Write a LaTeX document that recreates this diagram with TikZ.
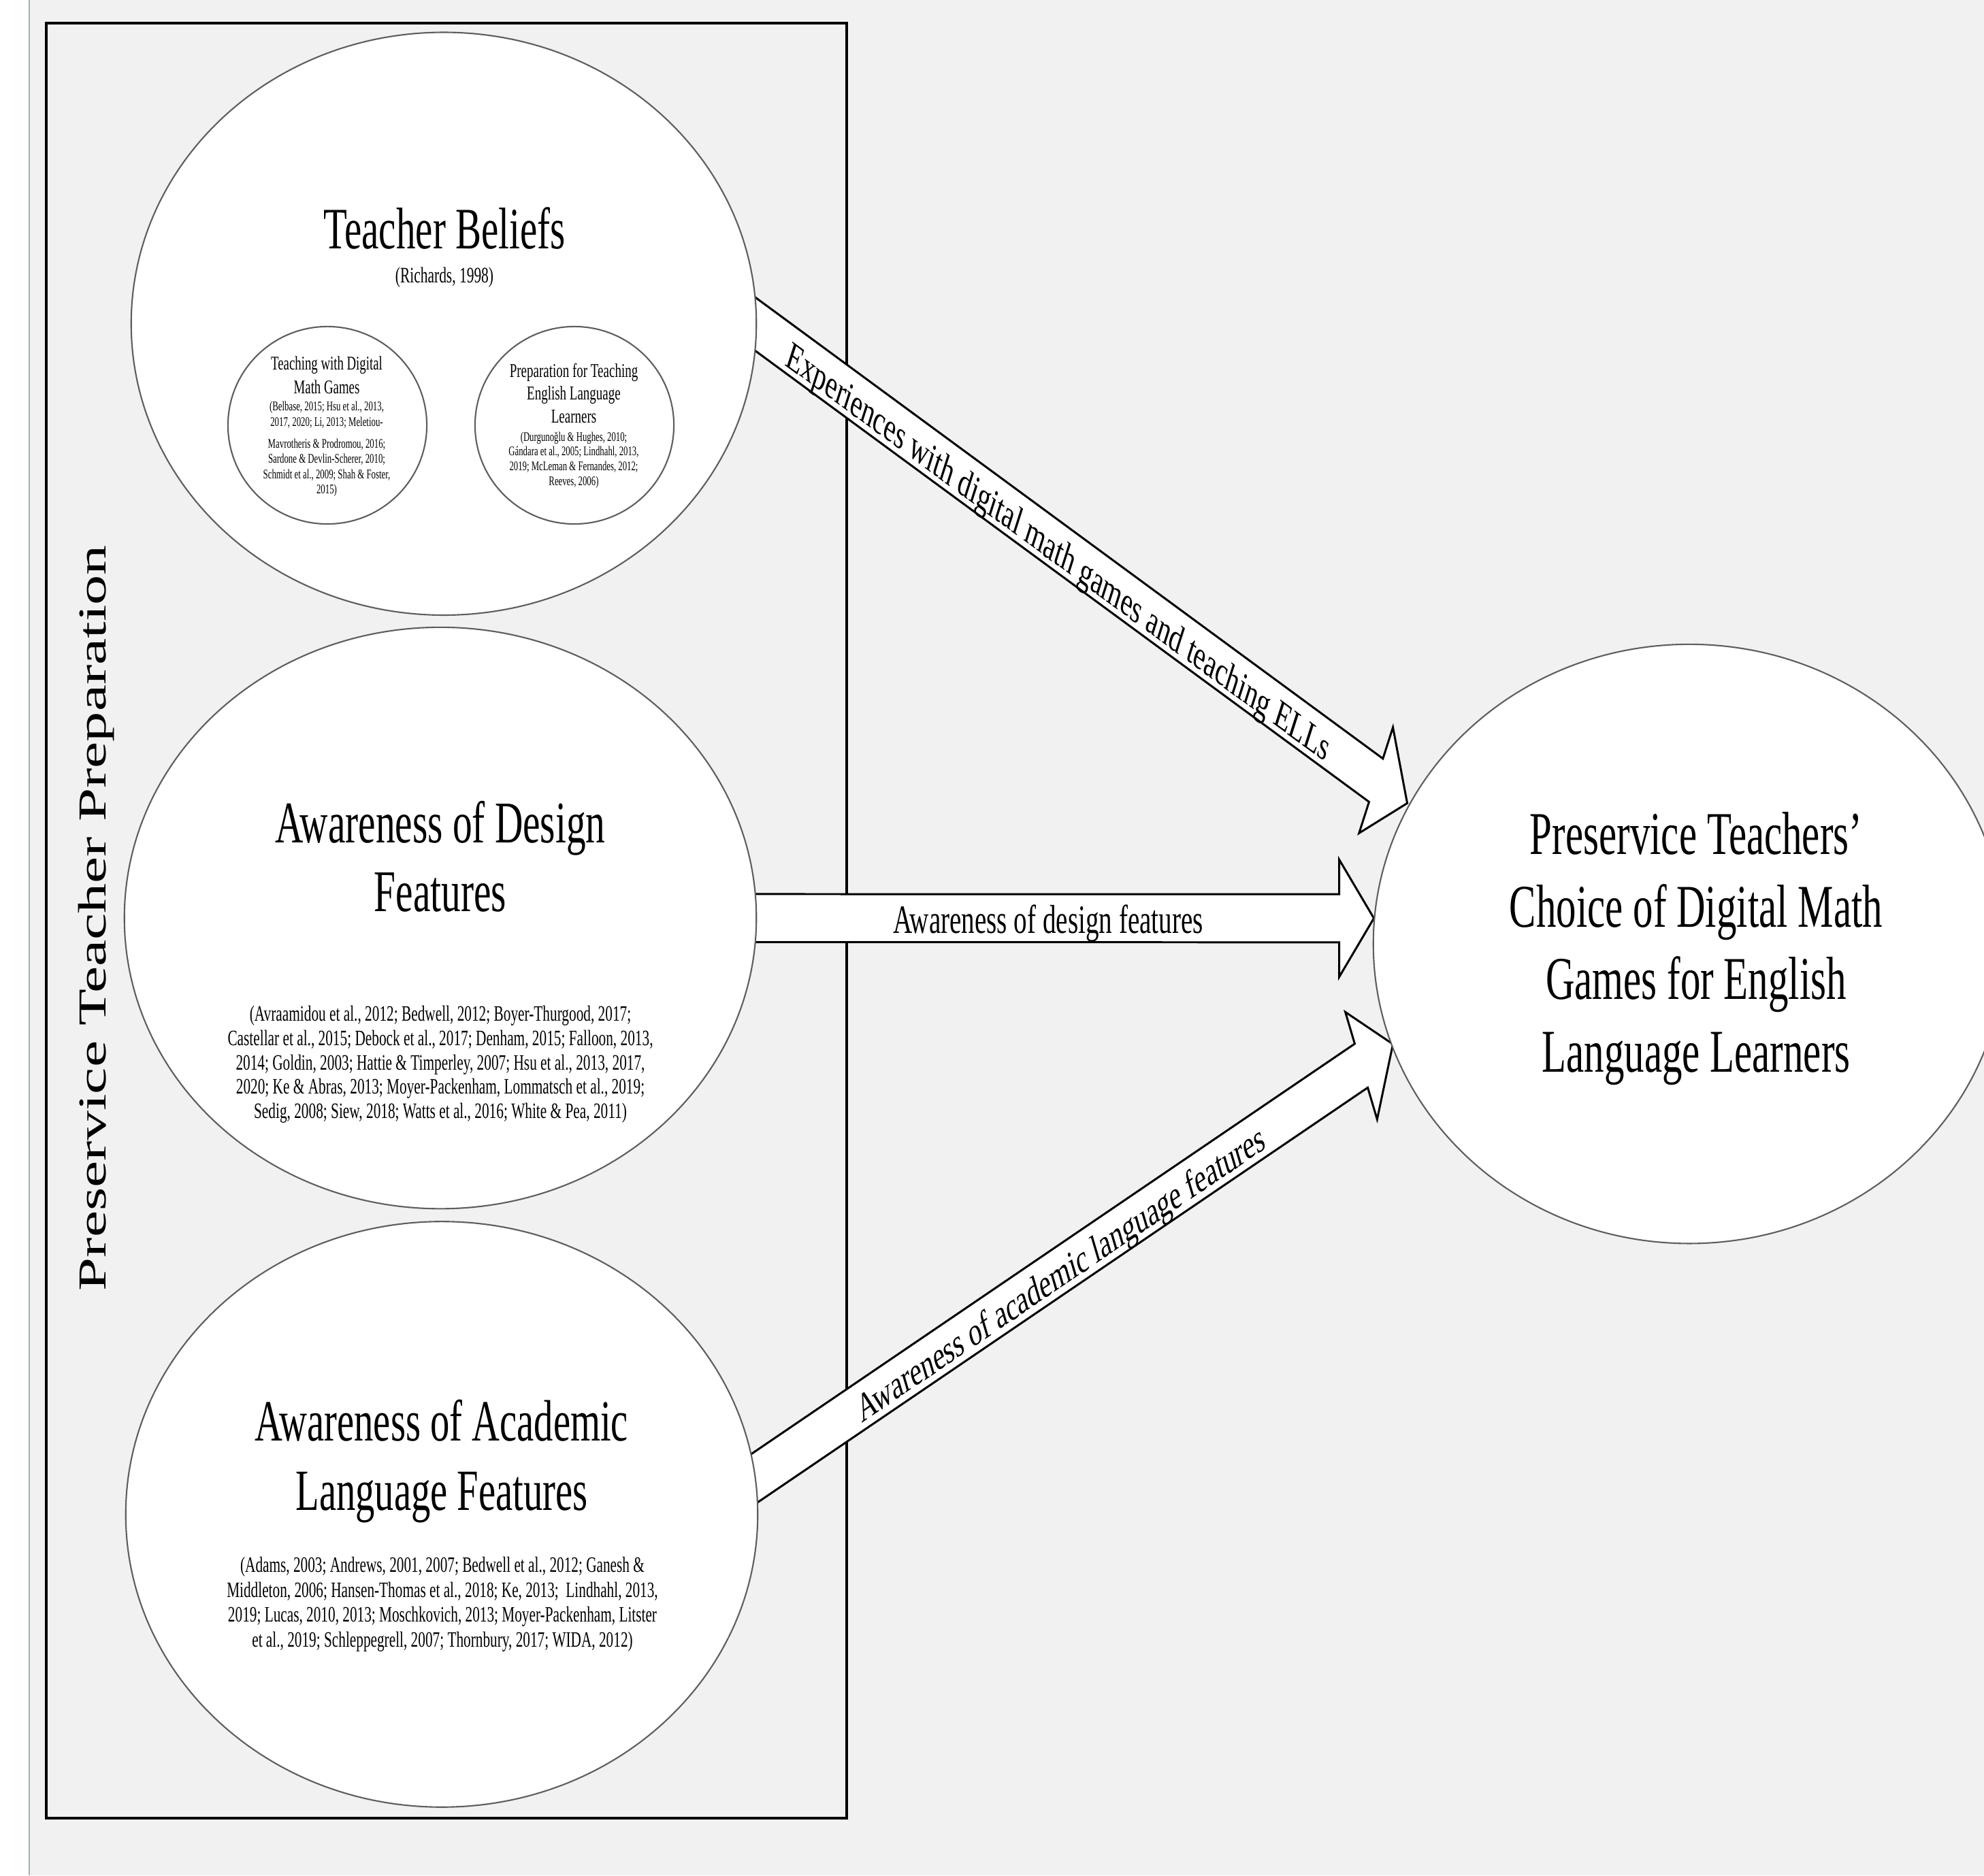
\documentclass[tikz,border=0pt]{standalone}
\usepackage{fontspec}
\setmainfont{Liberation Serif}
\usetikzlibrary{shapes.geometric,calc}
\definecolor{bg}{HTML}{F1F1F1}
\definecolor{stripline}{HTML}{A7B1B6}
\definecolor{ellline}{HTML}{5E5E5E}
\tikzset{
  bubble/.style={ellipse, draw=ellline, line width=0.6pt, fill=white, inner sep=0pt},
  arrowbody/.style={draw=black, fill=white, line width=0.85pt, line join=miter},
  txt/.style={inner sep=0pt, align=center, text=black},
}
% #1 tail coordinate, #2 angle (deg), #3 total length (cm, number)
\newcommand\drawblockarrow[3]{%
  \coordinate (#1-tip) at ($(#1)+({#2}:{#3cm})$);
  \coordinate (#1-base) at ($(#1)+({#2}:{#3cm-0.51cm})$);
  \filldraw[arrowbody]
    ($(#1)+({#2+90}:0.233cm)$) -- ($(#1-base)+({#2+90}:0.233cm)$) --
    ($(#1-base)+({#2+90}:0.57cm)$) -- (#1-tip) --
    ($(#1-base)+({#2-90}:0.57cm)$) -- ($(#1-base)+({#2-90}:0.233cm)$) --
    ($(#1)+({#2-90}:0.233cm)$) -- cycle;
}
\begin{document}
\begin{tikzpicture}[x=0.01cm, y={(0cm,-0.0066007cm)}, yscale=1.515, transform shape]
\useasboundingbox (0,0) rectangle (2915,2752);
\clip (0,0) rectangle (2915,2752);
% background
\fill[bg] (0,0) rectangle (2915,2752);
\fill[white] (0,0) rectangle (43,2752);
\draw[stripline, line width=0.45pt] (43,0) -- (43,2752);
% frame
\draw[black, line width=1.05pt] (68,34) rectangle (1244,2668);

% arrows (tails hidden under the source ellipses)
\coordinate (exp) at (1080.5,454);
\coordinate (des) at (1080,1347);
\coordinate (aca) at (1076.1,2190.7);
\drawblockarrow{exp}{-25.88}{10.965}
\drawblockarrow{des}{0}{9.38}
\drawblockarrow{aca}{24.18}{10.632}

% ellipses
\node[bubble, minimum width=9.18cm, minimum height=5.650cm] (tb) at (652,475) {};
\node[bubble, minimum width=2.92cm, minimum height=1.914cm] (s1) at (481,624) {};
\node[bubble, minimum width=2.92cm, minimum height=1.914cm] (s2) at (844,624) {};
\node[bubble, minimum width=9.28cm, minimum height=5.637cm] (design) at (647,1347) {};
\node[bubble, minimum width=9.28cm, minimum height=5.677cm] (academic) at (649,2222) {};
\node[bubble, minimum width=9.28cm, minimum height=5.809cm] (choice) at (2482,1385) {};

% texts
\node[txt, rotate=90, font=\fontsize{16.56}{20}\selectfont] (ptp) at (141.5,1347) {Preservice Teacher Preparation};

\node[txt, font=\fontsize{16.2}{19.4}\selectfont] (tbtitle) at (653,335) {Teacher Beliefs};
\node[txt, font=\fontsize{6.1}{7.3}\selectfont] (tbcite) at (653,407) {(Richards, 1998)};

\node[txt, font=\fontsize{5.35}{6.57}\selectfont] (s1title) at (480,550) {Teaching with Digital\\Math Games};
\node[txt, font=\fontsize{3.65}{4.22}\selectfont] (s1cite) at (480,659) {(Belbase, 2015; Hsu et al., 2013,\\2017, 2020; Li, 2013; Meletiou-\\[0.063cm]Mavrotheris \& Prodromou, 2016;\\Sardone \& Devlin-Scherer, 2010;\\Schmidt et al., 2009; Shah \& Foster,\\2015)};

\node[txt, font=\fontsize{5.4}{6.29}\selectfont] (s2title) at (843,577) {Preparation for Teaching\\English Language\\Learners};
\node[txt, font=\fontsize{3.63}{4.08}\selectfont] (s2cite) at (843,675) {(Durgunoğlu \& Hughes, 2010;\\Gándara et al., 2005; Lindhahl, 2013,\\2019; McLeman \& Fernandes, 2012;\\Reeves, 2006)};

\node[txt, font=\fontsize{16.3}{19.1}\selectfont] (dtitle) at (647,1257) {Awareness of Design\\Features};
\node[txt, font=\fontsize{6.06}{6.71}\selectfont] (dcite) at (647,1562) {(Avraamidou et al., 2012; Bedwell, 2012; Boyer-Thurgood, 2017;\\Castellar et al., 2015; Debock et al., 2017; Denham, 2015; Falloon, 2013,\\2014; Goldin, 2003; Hattie \& Timperley, 2007; Hsu et al., 2013, 2017,\\2020; Ke \& Abras, 2013; Moyer-Packenham, Lommatsch et al., 2019;\\Sedig, 2008; Siew, 2018; Watts et al., 2016; White \& Pea, 2011)};

\node[txt, font=\fontsize{16.1}{19.1}\selectfont] (atitle) at (649,2144) {Awareness of Academic\\Language Features};
\node[txt, font=\fontsize{6.05}{6.89}\selectfont] (acite) at (650,2354) {(Adams, 2003; Andrews, 2001, 2007; Bedwell et al., 2012; Ganesh \&\\Middleton, 2006; Hansen-Thomas et al., 2018; Ke, 2013;\ \ Lindhahl, 2013,\\2019; Lucas, 2010, 2013; Moschkovich, 2013; Moyer-Packenham, Litster\\et al., 2019; Schleppegrell, 2007; Thornbury, 2017; WIDA, 2012)};

\node[txt, font=\fontsize{16.76}{20.0}\selectfont] (ctitle) at (2492,1392) {Preservice Teachers'\\Choice of Digital Math\\Games for English\\Language Learners};

% arrow labels
\node[txt, rotate=-25.88, font=\fontsize{11.12}{13}\selectfont] (lab1) at (1554,814) {Experiences with digital math games and teaching ELLs};
\node[txt, font=\fontsize{11.12}{13}\selectfont] (lab2) at (1540,1355) {Awareness of design features};
\node[txt, rotate=24.18, font=\fontsize{11.12}{13}\selectfont] (lab3) at (1560,1873) {Awareness of academic language features};
\end{tikzpicture}
\end{document}
